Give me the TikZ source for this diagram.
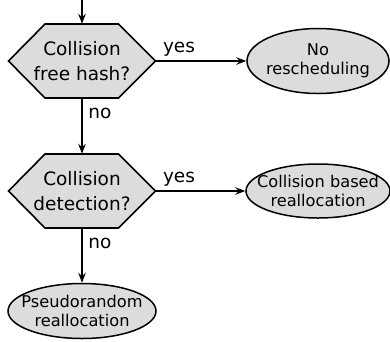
\documentclass[tikz,border=0pt]{standalone}
\usepackage{fontspec}
\setmainfont{DejaVu Sans}
\usetikzlibrary{shapes.geometric,arrows.meta}
\definecolor{boxfill}{RGB}{220,220,220}
\begin{document}
\begin{tikzpicture}[x=1pt,y=-1pt,
  hexbox/.style={minimum width=147pt,minimum height=74pt,inner sep=0pt,align=center,
     font=\fontsize{18.5}{25}\selectfont},
  hexshape/.style={draw=black,line width=1.6pt,fill=boxfill,line join=miter},
  ellbox/.style={ellipse,draw=black,line width=1.5pt,fill=boxfill,inner sep=0pt},
  elltext/.style={align=center,inner sep=0pt,font=\fontsize{16.2}{19.5}\selectfont},
  lbl/.style={anchor=base,inner sep=0pt,font=\fontsize{18.5}{22}\selectfont},
  arr/.style={line width=1.4pt,-{Stealth[length=10pt,width=7.5pt,inset=3.5pt]}},
  ln/.style={line width=1.4pt}]
\useasboundingbox (0,0) rectangle (390,341);
% hexagon shapes
\draw[hexshape] (8.5,61) -- (45,24) -- (118.5,24) -- (155.5,61) -- (118.5,98) -- (45,98) -- cycle;
\draw[hexshape] (8.5,191) -- (45,154) -- (118.5,154) -- (155.5,191) -- (118.5,228) -- (45,228) -- cycle;
\node[hexbox] (h1) at (82,61) {Collision\\free hash?};
\node[hexbox] (h2) at (82,191) {Collision\\detection?};
% ellipses
\node[ellbox,minimum width=142pt,minimum height=65pt] (e1) at (318,61) {};
\node[elltext] (e1t) at (e1) {No\\rescheduling};
\node[ellbox,minimum width=144pt,minimum height=54pt] (e2) at (318,191) {};
\node[elltext] (e2t) at (e2) {Collision based\\reallocation};
\node[ellbox,minimum width=148pt,minimum height=55pt] (e3) at (82,311) {};
\node[elltext] (e3t) at (e3) {Pseudorandom\\reallocation};
% connectors
\coordinate (start) at (82,0);
\draw[arr] (start) -- (h1.north);
\draw[arr] (h1.east) -- (e1.west);
\draw[arr] (h1.south) -- (h2.north);
\draw[arr] (h2.east) -- (e2.west);
\draw[arr] (h2.south) -- (e3.north);
% labels
\node[lbl] (y1) at (179,52) {yes};
\node[lbl] (n1) at (100,118) {no};
\node[lbl] (y2) at (179,182) {yes};
\node[lbl] (n2) at (100,248) {no};
\end{tikzpicture}
\end{document}
